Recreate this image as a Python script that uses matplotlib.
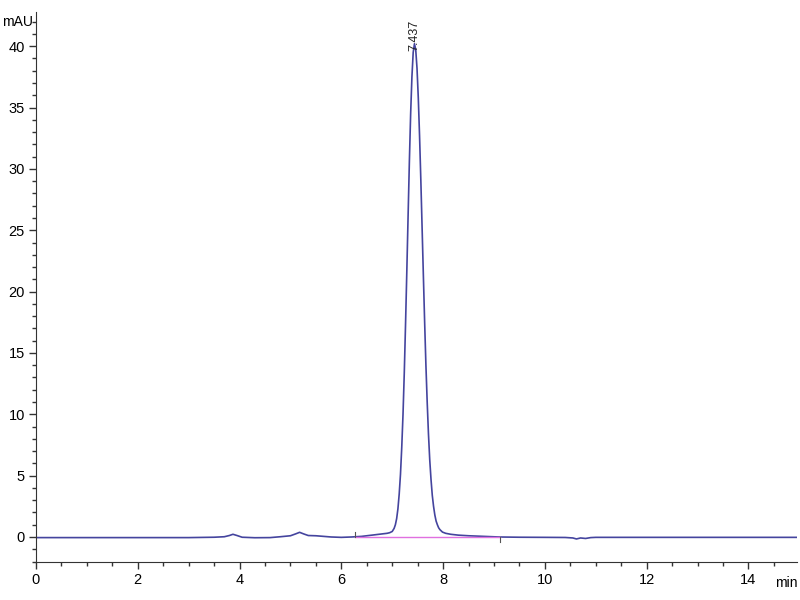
import matplotlib.pyplot as plt
from matplotlib.ticker import MultipleLocator

plt.rcParams['font.family'] = ['Liberation Sans Narrow', 'Liberation Sans', 'DejaVu Sans']

# chromatogram trace (time in min, signal in mAU)
time_min = [0.0, 1.0, 2.0, 3.0, 3.5, 3.7, 3.8, 3.87, 3.95, 4.05, 4.3, 4.6, 4.8, 5.0,
            5.1, 5.18, 5.26, 5.35, 5.5, 5.65, 5.8, 6.0, 6.2, 6.4, 6.6, 6.8, 6.9,
            6.95, 7.0, 7.037, 7.062, 7.087, 7.112, 7.137, 7.162, 7.187, 7.212,
            7.237, 7.262, 7.287, 7.312, 7.337, 7.362, 7.387, 7.412, 7.437, 7.462,
            7.487, 7.512, 7.537, 7.562, 7.587, 7.612, 7.637, 7.662, 7.687, 7.712,
            7.737, 7.762, 7.787, 7.812, 7.837, 7.862, 7.887, 7.912, 7.937, 7.987,
            8.05, 8.15, 8.3, 8.5, 8.8, 9.1, 9.5, 10.0, 10.4, 10.55, 10.62, 10.7,
            10.8, 10.9, 11.0, 11.5, 12.0, 13.0, 14.0, 15.0]
signal_mau = [-0.05, -0.05, -0.05, -0.05, -0.02, 0.02, 0.12, 0.22, 0.12, -0.02,
              -0.06, -0.05, 0.02, 0.1, 0.25, 0.38, 0.25, 0.12, 0.1, 0.05, 0.0,
              -0.03, 0.0, 0.05, 0.15, 0.25, 0.3, 0.35, 0.45, 0.7, 1.0, 1.5, 2.3,
              3.5, 5.1, 7.3, 10.0, 13.4, 17.4, 21.7, 26.2, 30.6, 34.5, 37.5, 39.5,
              40.2, 39.7, 38.2, 35.8, 32.7, 29.1, 25.2, 21.3, 17.5, 14.0, 11.0,
              8.4, 6.3, 4.7, 3.4, 2.5, 1.8, 1.3, 1.0, 0.75, 0.6, 0.4, 0.3, 0.22,
              0.15, 0.1, 0.05, 0.0, -0.02, -0.03, -0.04, -0.08, -0.16, -0.08,
              -0.12, -0.05, -0.03, -0.03, -0.03, -0.03, -0.03, -0.03]

peak_rt = 7.437
peak_height = 40.2
baseline_start = 6.27
baseline_end = 9.11

fig = plt.figure(figsize=(8, 6), dpi=100)
ax = fig.add_axes([0.045, 0.0633, 0.951, 0.917])

ax.plot(time_min, signal_mau, color='#44449e', lw=1.2)
ax.plot([baseline_start, baseline_end], [0, 0], color='#e070e0', lw=1.0)
ax.plot([baseline_start, baseline_start], [0, 0.4], color='#555555', lw=0.8)
ax.plot([baseline_end, baseline_end], [0, -0.4], color='#555555', lw=0.8)

ax.text(peak_rt, peak_height - 0.6, "7.437", rotation=90, ha='center', va='bottom',
        fontsize=9, color='#222222')

ax.set_xlim(0, 14.95)
ax.set_ylim(-2.04, 42.8)

ax.xaxis.set_major_locator(MultipleLocator(2))
ax.xaxis.set_minor_locator(MultipleLocator(0.5))
ax.yaxis.set_major_locator(MultipleLocator(5))
ax.yaxis.set_minor_locator(MultipleLocator(1))
ax.tick_params(which='major', length=5, width=1, labelsize=10.5, pad=3, color='#333333')
ax.tick_params(which='minor', length=3, width=1, color='#333333')

for side in ['top', 'right']:
    ax.spines[side].set_visible(False)
for side in ['left', 'bottom']:
    ax.spines[side].set_color('#333333')

fig.text(2 / 800, 1 - 22 / 600, "mAU", ha='left', va='center', fontsize=10)
fig.text(798 / 800, 1 - 583 / 600, "min", ha='right', va='center', fontsize=10)

plt.savefig("out.png")
